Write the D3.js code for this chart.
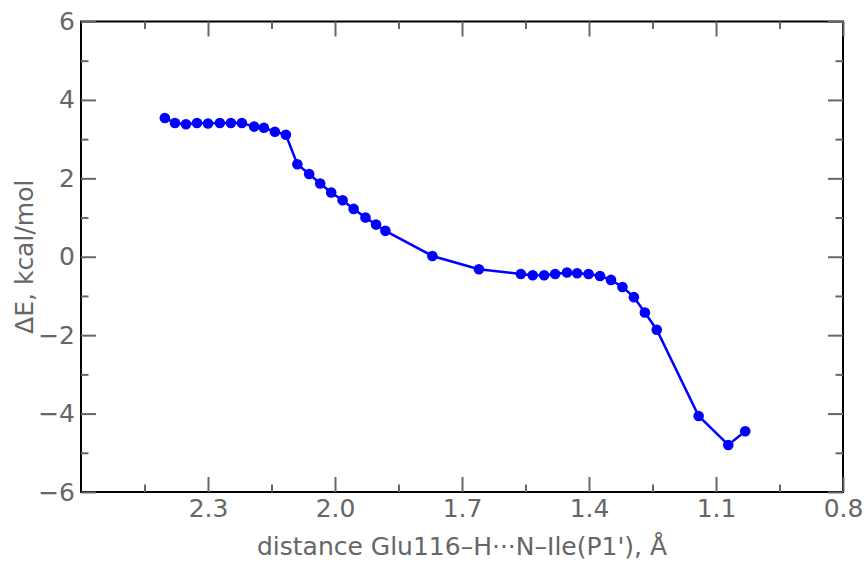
<!DOCTYPE html>
<html>
<head>
<meta charset="utf-8">
<script src="https://cdn.jsdelivr.net/npm/d3@7/dist/d3.min.js"></script>
<style>
  body { margin: 0; background: #fff; }
  text { font-family: "DejaVu Sans", sans-serif; fill: #666; }
</style>
</head>
<body>
<svg id="chart" width="868" height="564"></svg>
<script>
// distance Glu116-H...N-Ile(P1'), in Angstrom
var distance = [2.402, 2.378, 2.352, 2.326, 2.300, 2.272, 2.246, 2.220, 2.191, 2.168,
  2.142, 2.116, 2.089, 2.061, 2.035, 2.009, 1.982, 1.956, 1.928, 1.903,
  1.881, 1.770, 1.660, 1.561, 1.533, 1.506, 1.480, 1.452, 1.428, 1.401,
  1.374, 1.348, 1.321, 1.294, 1.268, 1.240, 1.141, 1.071, 1.031];

// energy, kcal/mol
var energy = [3.54, 3.41, 3.38, 3.41, 3.40, 3.41, 3.41, 3.41, 3.32, 3.29,
  3.19, 3.11, 2.36, 2.11, 1.87, 1.64, 1.44, 1.22, 1.00, 0.82,
  0.66, 0.02, -0.32, -0.44, -0.47, -0.47, -0.44, -0.40, -0.42, -0.44,
  -0.49, -0.59, -0.77, -1.03, -1.42, -1.86, -4.06, -4.80, -4.45];

var xMajor = [2.3, 2.0, 1.7, 1.4, 1.1, 0.8];
var xMinor = [2.45, 2.15, 1.85, 1.55, 1.25, 0.95];
var yMajor = [-6, -4, -2, 0, 2, 4, 6];
var yMinor = [-5, -3, -1, 1, 3, 5];

var xTitle = "distance Glu116\u2013H\u00b7\u00b7\u00b7N\u2013Ile(P1'), \u00c5";
var yTitle = "\u0394E, kcal/mol";

var svg = d3.select("#chart");
var plotL = 81, plotR = 843, plotT = 21.5, plotB = 492;

var x = d3.scaleLinear().domain([2.6, 0.8]).range([plotL, plotR]);
var y = d3.scaleLinear().domain([-6, 6]).range([plotB, plotT]);

// frame
svg.append("rect")
  .attr("x", plotL).attr("y", plotT)
  .attr("width", plotR - plotL).attr("height", plotB - plotT)
  .attr("fill", "none").attr("stroke", "#000").attr("stroke-width", 2);

// line + markers
var pts = distance.map(function (d, i) { return [d, energy[i]]; });

svg.append("path")
  .datum(pts)
  .attr("fill", "none")
  .attr("stroke", "#0000ff")
  .attr("stroke-width", 2.5)
  .attr("d", d3.line()
    .x(function (d) { return x(d[0]); })
    .y(function (d) { return y(d[1]); }));

svg.selectAll("circle.pt")
  .data(pts)
  .enter()
  .append("circle")
  .attr("class", "pt")
  .attr("cx", function (d) { return x(d[0]); })
  .attr("cy", function (d) { return y(d[1]); })
  .attr("r", 5.3)
  .attr("fill", "#0000ff");

// ticks on all four sides, pointing inward
function addAxis(axisFn, scale, vals, size, tx, ty, labels) {
  var a = axisFn(scale).tickValues(vals).tickSize(-size).tickPadding(labels ? 7 : 0);
  if (labels) a.tickFormat(d3.format(".1f"));
  else a.tickFormat("");
  var g = svg.append("g").attr("transform", "translate(" + tx + "," + ty + ")").call(a);
  g.select(".domain").remove();
  g.selectAll(".tick line").attr("stroke", "#666").attr("stroke-width", 2);
  g.selectAll(".tick text").attr("font-size", 25).attr("fill", "#666");
  return g;
}

addAxis(d3.axisBottom, x, xMajor, 15, 0, plotB, true);
addAxis(d3.axisBottom, x, xMinor, 7.5, 0, plotB, false);
addAxis(d3.axisTop, x, xMajor, 15, 0, plotT, false);
addAxis(d3.axisTop, x, xMinor, 7.5, 0, plotT, false);

var gy = addAxis(d3.axisLeft, y, yMajor, 15, plotL, 0, true);
gy.selectAll(".tick text").text(function (d) { return d3.format("d")(d).replace("-", "\u2212"); })
  .attr("x", -6);
addAxis(d3.axisLeft, y, yMinor, 7.5, plotL, 0, false);
addAxis(d3.axisRight, y, yMajor, 15, plotR, 0, false);
addAxis(d3.axisRight, y, yMinor, 7.5, plotR, 0, false);

// axis titles
svg.append("text")
  .attr("x", (plotL + plotR) / 2)
  .attr("y", 555)
  .attr("text-anchor", "middle")
  .attr("font-size", 25)
  .text(xTitle);

svg.append("text")
  .attr("transform", "translate(33," + ((plotT + plotB) / 2) + ") rotate(-90)")
  .attr("text-anchor", "middle")
  .attr("font-size", 25)
  .text(yTitle);
</script>
</body>
</html>
